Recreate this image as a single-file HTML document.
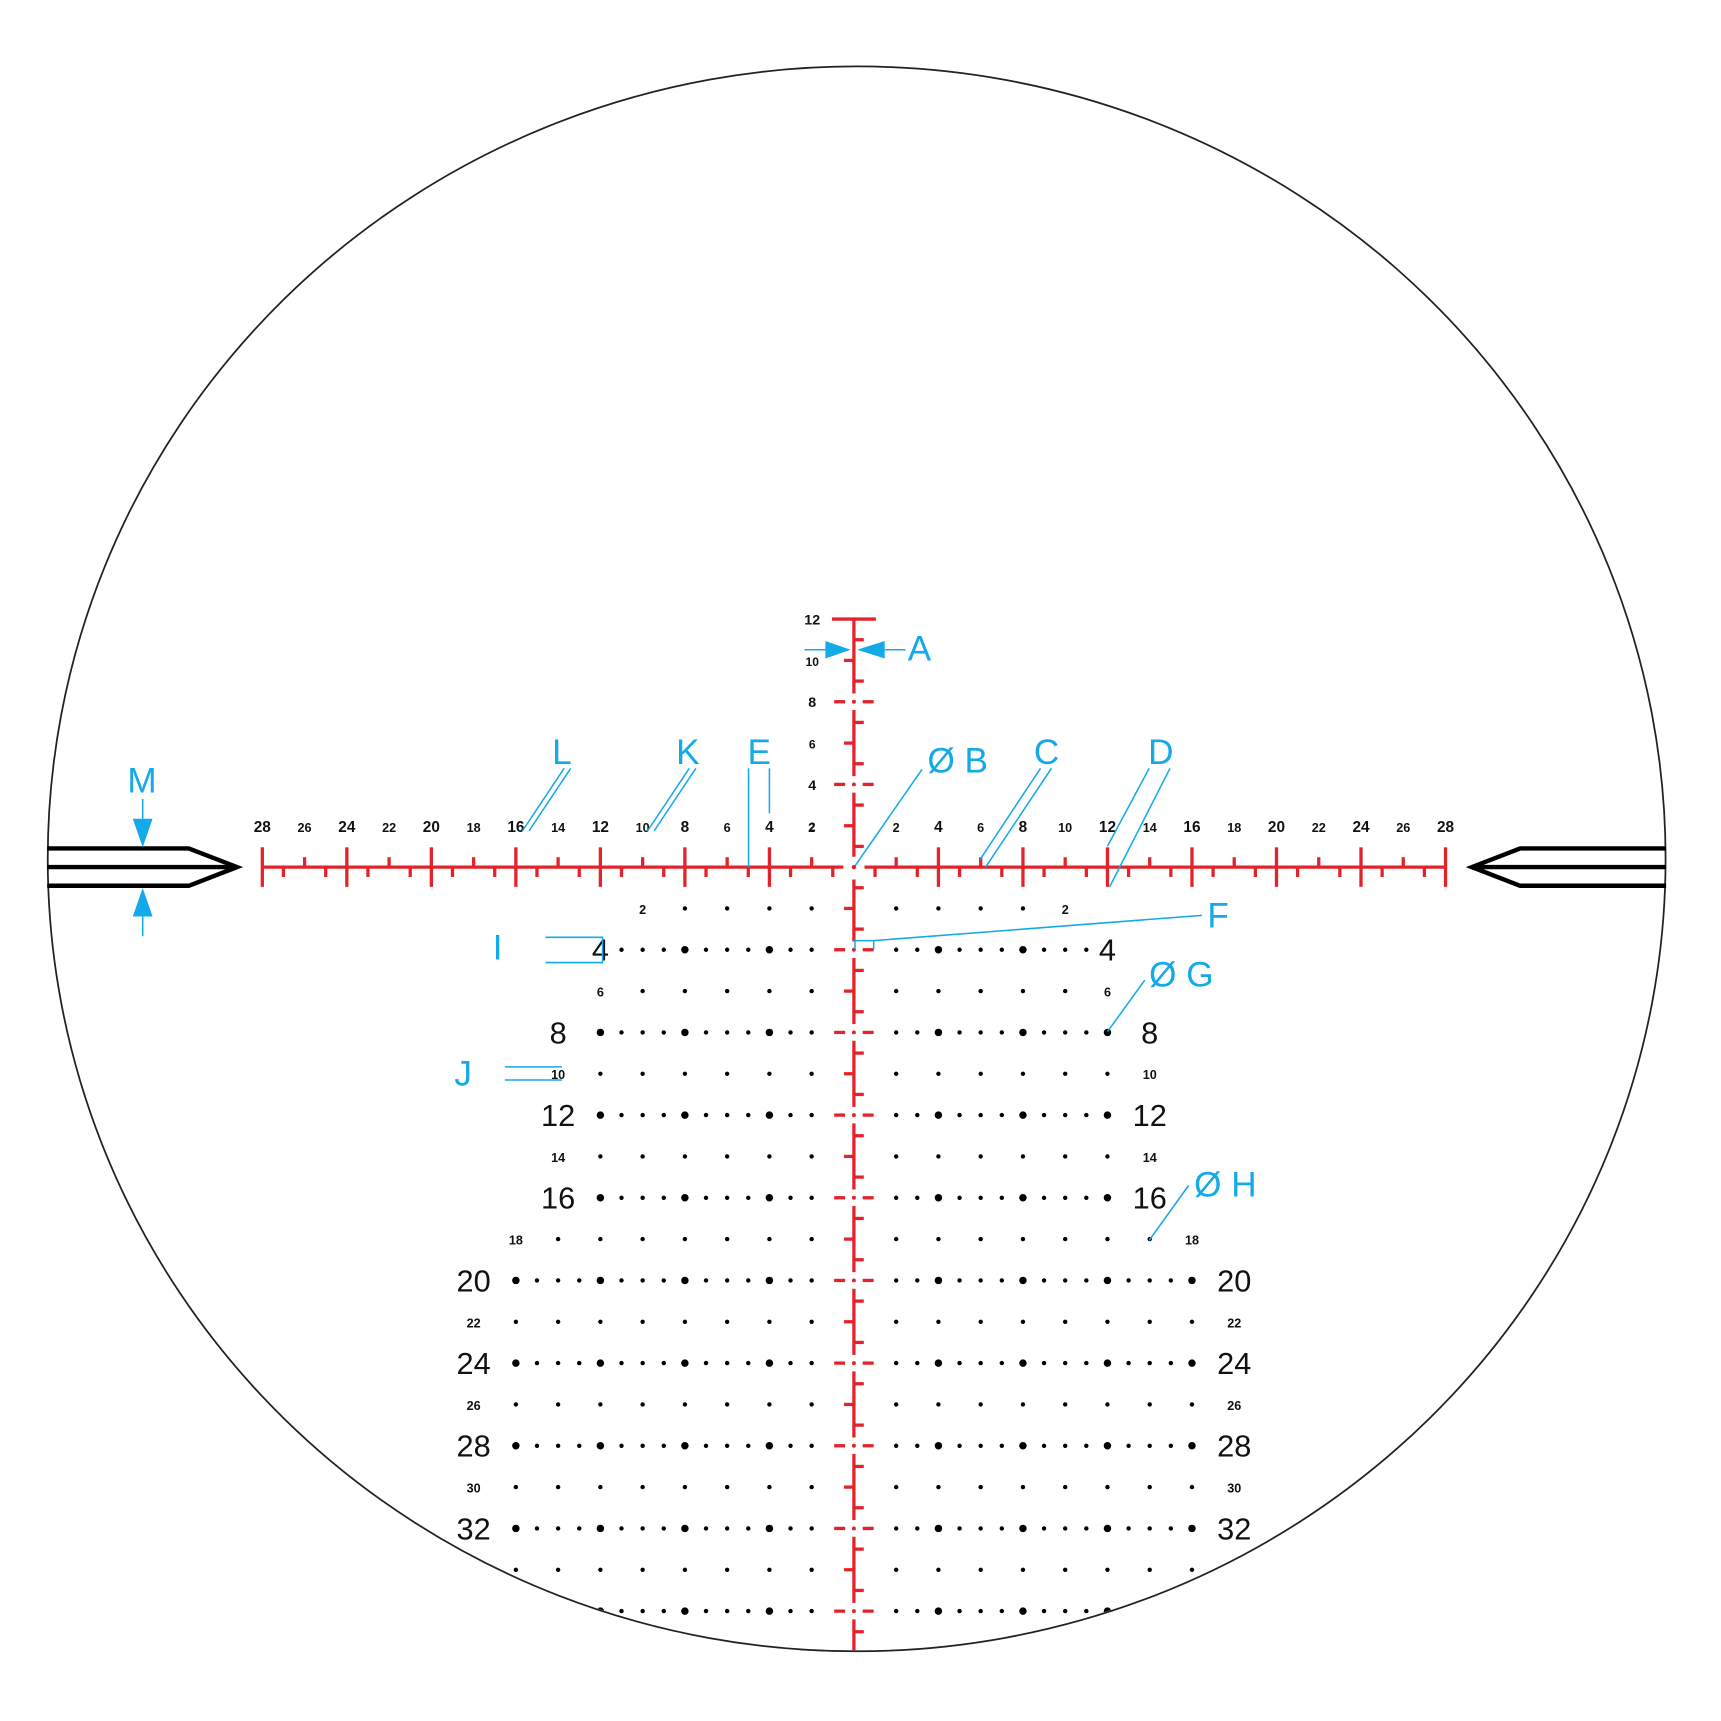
<!DOCTYPE html>
<html><head><meta charset="utf-8"><style>
html,body{margin:0;padding:0;background:#fff}
svg{display:block}
text{font-family:"Liberation Sans",sans-serif}
</style></head><body>
<svg id="s" width="1721" height="1721" viewBox="0 0 1568 1568" xmlns="http://www.w3.org/2000/svg">
<defs><clipPath id="cc"><ellipse cx="780.5" cy="782.5" rx="736" ry="721"/></clipPath></defs>
<ellipse cx="780.5" cy="782.5" rx="737" ry="722" fill="none" stroke="#222" stroke-width="1.6"/>
<g id="posts" fill="none" stroke="#000" stroke-width="4">
<polyline points="43,773 172,773 216,790 172,807 43,807"/><line x1="43" y1="790" x2="216" y2="790"/>
<polyline points="1518,773 1385,773 1341,790 1385,807 1518,807"/><line x1="1518" y1="790" x2="1341" y2="790"/>
</g>
<g id="red" stroke="#e2232b" stroke-width="3" fill="none" clip-path="url(#cc)"></g>
<g id="dots" fill="#000" clip-path="url(#cc)"></g>
<g id="labels" fill="#111"></g>
<g id="ann" stroke="#14a9e8" stroke-width="1.4" fill="none">
<line x1="733" y1="592" x2="752" y2="592"/><polygon points="752,584 752,600 775,592" fill="#14a9e8" stroke="none"/>
<line x1="806" y1="592" x2="825" y2="592"/><polygon points="806,584 806,600 781,592" fill="#14a9e8" stroke="none"/>
<line x1="840" y1="701" x2="779" y2="789"/>
<line x1="948" y1="700" x2="893" y2="783"/><line x1="958" y1="700" x2="898" y2="790"/>
<line x1="1047" y1="700" x2="1009" y2="771"/><line x1="1066" y1="700" x2="1011" y2="808"/>
<line x1="682" y1="700" x2="682" y2="790"/><line x1="701" y1="700" x2="701" y2="741"/>
<line x1="628" y1="700" x2="590" y2="757"/><line x1="634" y1="700" x2="596" y2="757"/>
<line x1="514" y1="700" x2="476" y2="757"/><line x1="520" y1="700" x2="482" y2="757"/>
<line x1="130" y1="728" x2="130" y2="746"/><polygon points="121,746 139,746 130,772" fill="#14a9e8" stroke="none"/>
<line x1="130" y1="835" x2="130" y2="853"/><polygon points="121,835 139,835 130,809" fill="#14a9e8" stroke="none"/>
<polyline points="1095,834 796,857 779,857 779,865"/><line x1="796" y1="857" x2="796" y2="865"/>
<polyline points="497,854 549,854 549,877 497,877"/>
<line x1="460" y1="972" x2="512" y2="972"/><line x1="460" y1="984" x2="512" y2="984"/>
<line x1="1043" y1="893" x2="1009" y2="940"/>
<line x1="1083" y1="1080" x2="1047" y2="1130"/>
</g>
<g fill="#14a9e8" font-size="32">
<text x="827" y="602">A</text><text x="845" y="704">Ø B</text><text x="942" y="696">C</text>
<text x="1046" y="696">D</text><text x="681" y="696">E</text><text x="1100" y="845">F</text>
<text x="1047" y="899">Ø G</text><text x="1088" y="1090">Ø H</text><text x="449" y="874">I</text>
<text x="414" y="989">J</text><text x="616" y="696">K</text><text x="503" y="696">L</text><text x="116" y="722">M</text>
</g>
</svg>
<script>
const hUnits=[1,2,3,4,5,6,7,8,9,10,11,12,13,14,15,16,17,18,19,20,21,22,23,24,25,26,27,28];
const vUpUnits=[1,2,3,4,5,6,7,8,9,10,11,12];
const rows=[2,4,6,8,10,12,14,16,18,20,22,24,26,28,30,32,34,36];
const rowMaxDot=[8,11,10,12,12,12,12,12,14,16,16,16,16,16,16,16,16,16];
const rowLabelPos=[10,12,12,14,14,14,14,14,16,18,18,18,18,18,18,18,0,0];
const CX=778,CY=790,UX=19.25,UY=18.83;
const xs=u=>CX+u*UX, ys=u=>CY+u*UY;
const NS="http://www.w3.org/2000/svg";
const red=document.getElementById('red'),dots=document.getElementById('dots'),lab=document.getElementById('labels');
function ln(x1,y1,x2,y2,name){const e=document.createElementNS(NS,'line');
e.setAttribute('x1',x1);e.setAttribute('y1',y1);e.setAttribute('x2',x2);e.setAttribute('y2',y2);


red.appendChild(e);}
function tx(x,y,s,size,w){const e=document.createElementNS(NS,'text');
e.setAttribute('x',x);e.setAttribute('y',y);e.setAttribute('font-size',size);e.setAttribute('text-anchor','middle');
if(w)e.setAttribute('font-weight','bold');e.textContent=s;


lab.appendChild(e);}
function dot(x,y,r){const e=document.createElementNS(NS,'circle');
e.setAttribute('cx',x);e.setAttribute('cy',y);e.setAttribute('r',r);


dots.appendChild(e);}
function rdot(x,y,r){const d=document.createElementNS(NS,'circle');
d.setAttribute('cx',x);d.setAttribute('cy',y);d.setAttribute('r',r);d.setAttribute('fill','#e2232b');d.setAttribute('stroke','none');


red.appendChild(d);}
const maxH=hUnits[hUnits.length-1];
ln(xs(-maxH),CY,xs(-0.5),CY,'horizontal-line');ln(xs(0.5),CY,xs(maxH),CY,'horizontal-line');
for(const s of [-1,1]){for(const u of hUnits){const x=xs(s*u);
 if(u%4===0||u===maxH)ln(x,CY-18,x,CY+18,'major-tick');
 else if(u%2===0)ln(x,CY-9,x,CY,'half-tick');
 else ln(x,CY,x,CY+9,'odd-tick');
 if(u%2===0)tx(x,CY-32,String(u),u%4===0?14:11.5,true);}}
rdot(CX,CY,2);
const topU=vUpUnits[vUpUnits.length-1];
const vMarks=[];for(let u=-topU;u<=38;u++)vMarks.push(u);
function vseg(a,b){ln(CX,ys(a),CX,ys(b),'vertical-line');}
let segs=[[-topU,-8.4],[-7.6,-4.4],[-3.6,-0.5],[0.6,3.6]];
for(let k=4;k<40;k+=4)segs.push([k+0.4,k+3.6]);
for(const s of segs)vseg(s[0],Math.min(s[1],38));
ln(CX-20,ys(-topU),CX+20,ys(-topU),'top-bar');
for(const u of vMarks){if(u===0||u===-topU)continue;const y=ys(u);const a=Math.abs(u);
 if(a%4===0){ln(CX-18,y,CX-8,y,'dash-cross');ln(CX+8,y,CX+18,y,'dash-cross');rdot(CX,y,1.8);}
 else if(a%2===1)ln(CX,y,CX+9,y,'odd-tick');
 else ln(CX-9,y,CX,y,'even-tick');}
for(const u of vUpUnits){if(u%2===0)tx(CX-38,ys(-u)+5,String(u),u%4===0?13:11,true);}
rows.forEach((r,i)=>{const y=ys(r);const m=rowMaxDot[i];
 for(const s of [-1,1]){
  if(r%4===0){for(let u=2;u<=m;u++)dot(xs(s*u),y,u%4===0?3.4:2);}
  else{for(let u=2;u<=m;u+=2)dot(xs(s*u),y,2);}
  const lp=rowLabelPos[i];
  if(lp){if(r%4===0)tx(xs(s*lp),y+10,String(r),28,false);else tx(xs(s*lp),y+5,String(r),11.5,true);}
 }});
</script>
</body></html>
